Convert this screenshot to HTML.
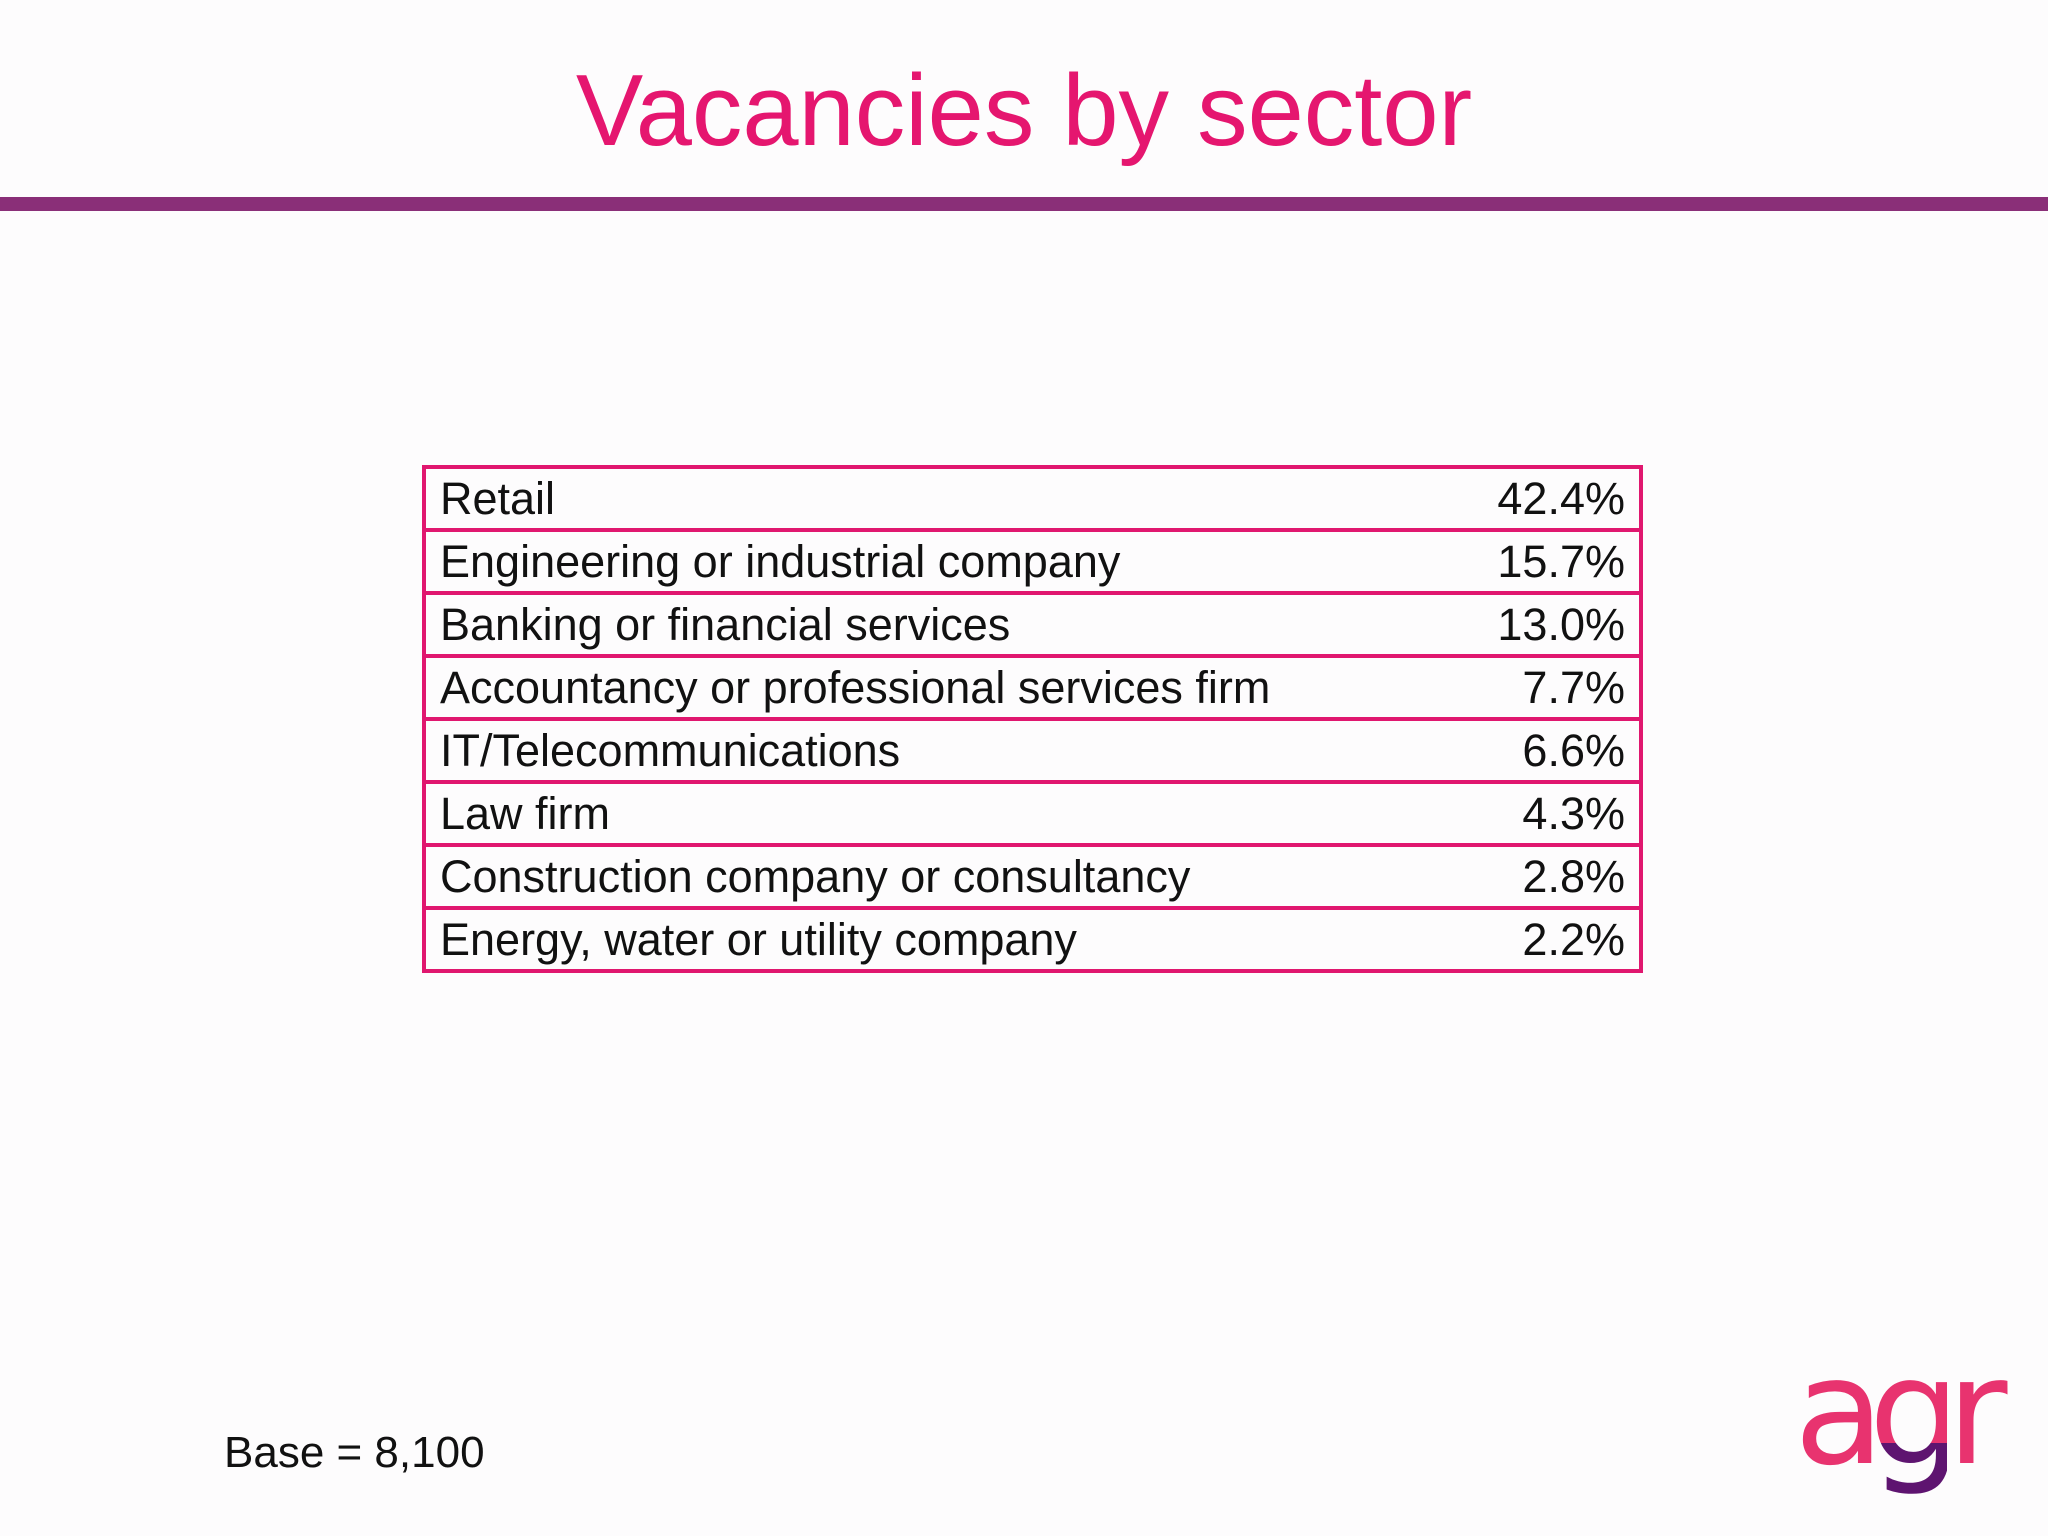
<!DOCTYPE html>
<html><head><meta charset="utf-8"><style>
html,body{margin:0;padding:0}
body{width:2048px;height:1536px;background:#fdfcfd;position:relative;overflow:hidden;font-family:"Liberation Sans",sans-serif}
#title{position:absolute;left:0;width:2048px;top:46px;text-align:center;font-size:101px;color:#e5166f;line-height:130px}
#rule{position:absolute;left:0;top:197px;width:2048px;height:14px;background:#8a2f78}
#tbl{position:absolute;left:422px;top:465px;width:1221px;border-collapse:collapse}
#tbl td{border:4px solid #e0176f;height:59px;font-size:45px;color:#111;padding:0 14px 0 14px;line-height:59px}
#tbl td.v{text-align:right;width:160px;border-left:none}
#tbl td.l{border-right:none}
#base{position:absolute;left:224px;top:1428px;font-size:44px;color:#111}
#logo{position:absolute;left:1794px;top:1338px;font-size:148px;line-height:148px;color:#e8336f;letter-spacing:-16px;font-family:"DejaVu Sans",sans-serif;white-space:nowrap}
#logo .g{background:linear-gradient(#e8336f 0,#e8336f 68%,#5e1470 68%,#5e1470 100%);-webkit-background-clip:text;background-clip:text;color:transparent}
</style></head><body>
<div id="title">Vacancies by sector</div>
<div id="rule"></div>
<table id="tbl">
<tr><td class="l">Retail</td><td class="v">42.4%</td></tr>
<tr><td class="l">Engineering or industrial company</td><td class="v">15.7%</td></tr>
<tr><td class="l">Banking or financial services</td><td class="v">13.0%</td></tr>
<tr><td class="l">Accountancy or professional services firm</td><td class="v">7.7%</td></tr>
<tr><td class="l">IT/Telecommunications</td><td class="v">6.6%</td></tr>
<tr><td class="l">Law firm</td><td class="v">4.3%</td></tr>
<tr><td class="l">Construction company or consultancy</td><td class="v">2.8%</td></tr>
<tr><td class="l">Energy, water or utility company</td><td class="v">2.2%</td></tr>
</table>
<div id="base">Base = 8,100</div>
<div id="logo">a<span class="g">g</span>r</div>
</body></html>
